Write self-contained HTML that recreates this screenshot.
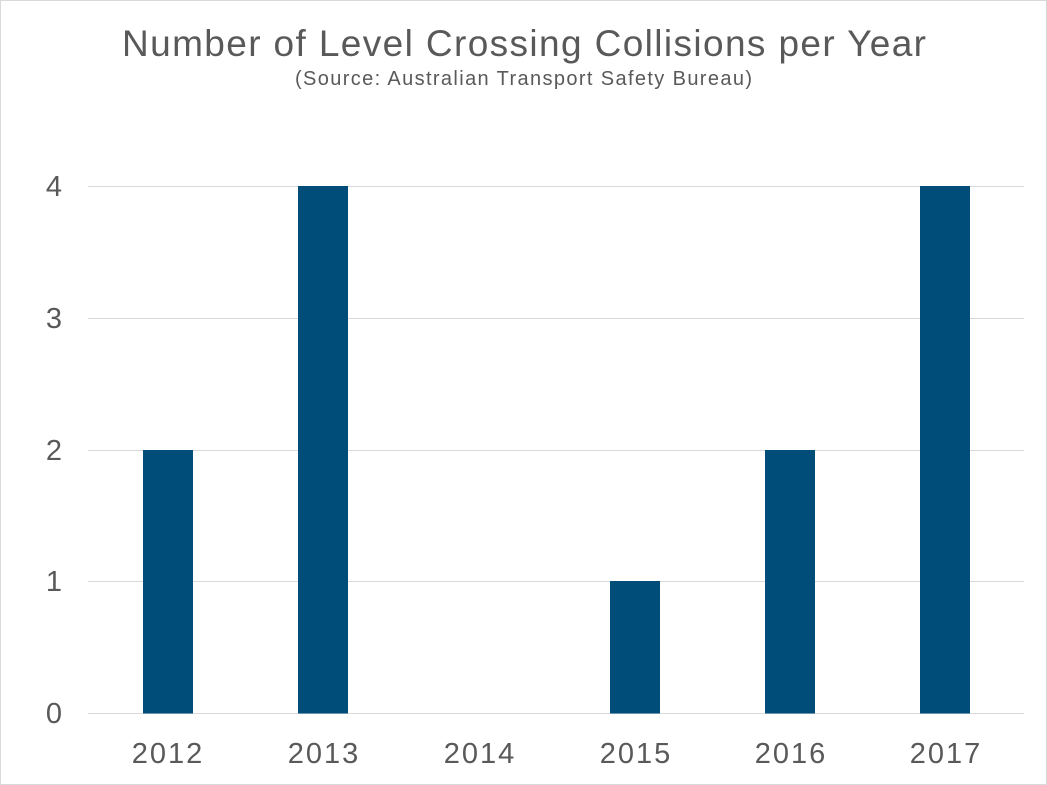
<!DOCTYPE html>
<html><head><style>
body{margin:0;background:#fff;}
svg{display:block;}
text{font-family:"Liberation Sans",Arial,sans-serif;fill:#595959;}
</style></head><body>
<svg width="1047" height="785" viewBox="0 0 1047 785">
<rect x="0.5" y="0.5" width="1046" height="784" fill="#fff" stroke="#d9d9d9"/>
<text x="122" y="56" font-size="37" textLength="804" lengthAdjust="spacing">Number of Level Crossing Collisions per Year</text>
<text x="295" y="85" font-size="20" textLength="457" lengthAdjust="spacing">(Source: Australian Transport Safety Bureau)</text>
<g stroke="#d9d9d9" stroke-width="1">
<line x1="88" x2="1024" y1="186.5" y2="186.5"/>
<line x1="88" x2="1024" y1="318.5" y2="318.5"/>
<line x1="88" x2="1024" y1="450.5" y2="450.5"/>
<line x1="88" x2="1024" y1="581.5" y2="581.5"/>
<line x1="88" x2="1024" y1="713.5" y2="713.5"/>
</g>
<g fill="#004d7a">
<rect x="143" y="450" width="50" height="263.5"/>
<rect x="298" y="186" width="50" height="527.5"/>
<rect x="610" y="581" width="50" height="132.5"/>
<rect x="765" y="450" width="50" height="263.5"/>
<rect x="920" y="186" width="50" height="527.5"/>
</g>
<g font-size="29" text-anchor="end">
<text x="62" y="196">4</text>
<text x="62" y="328">3</text>
<text x="62" y="460">2</text>
<text x="62" y="591">1</text>
<text x="62" y="723">0</text>
</g>
<g font-size="29" text-anchor="middle" letter-spacing="2">
<text x="168" y="763">2012</text>
<text x="324" y="763">2013</text>
<text x="480" y="763">2014</text>
<text x="636" y="763">2015</text>
<text x="791" y="763">2016</text>
<text x="946" y="763">2017</text>
</g>
</svg>
</body></html>
